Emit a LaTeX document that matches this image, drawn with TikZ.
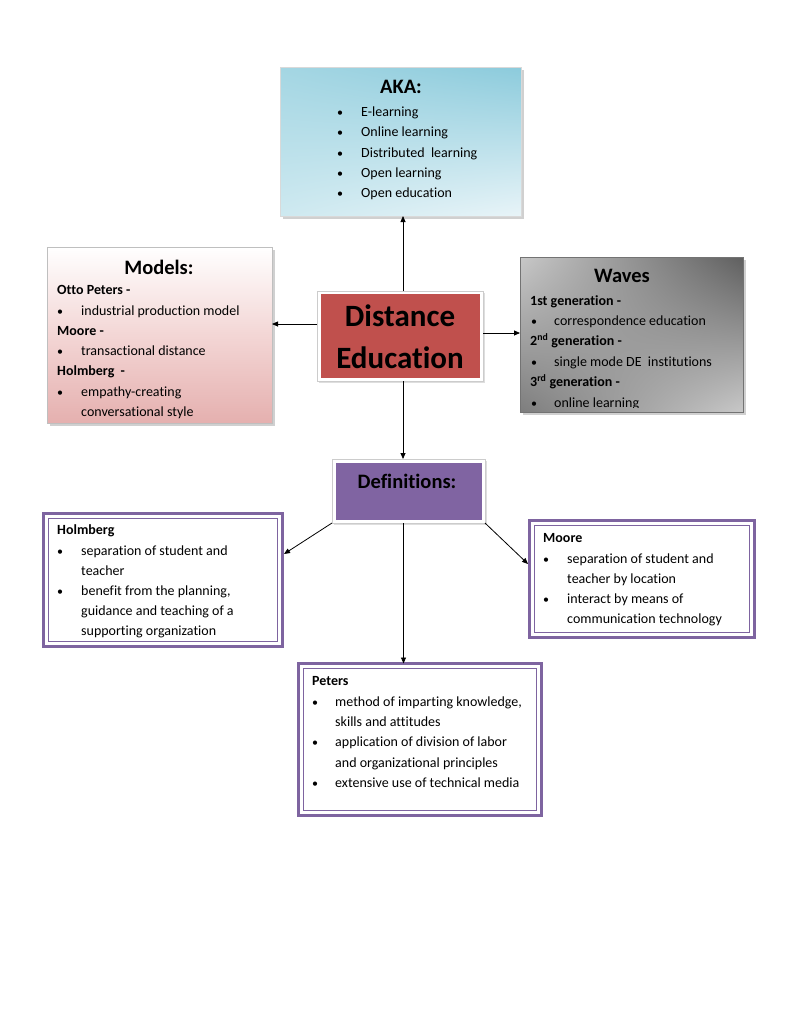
\documentclass[tikz,border=0pt]{standalone}
\usepackage{fontspec}
\setmainfont{Carlito}[Ligatures=NoCommon]
\usetikzlibrary{arrows.meta,calc,shadows,shadings}
\definecolor{deRed}{HTML}{C0504D}
\definecolor{defPurple}{HTML}{8064A2}
\definecolor{dpurple}{HTML}{7E64A0}
\definecolor{akaUL}{RGB}{164,214,227}
\definecolor{akaUR}{RGB}{140,203,220}
\definecolor{akaLL}{RGB}{206,233,240}
\definecolor{akaLR}{RGB}{232,244,248}
\definecolor{modB}{RGB}{229,176,175}
\definecolor{modM}{RGB}{243,214,213}
\definecolor{wUL}{RGB}{200,200,200}
\definecolor{wUR}{RGB}{95,95,95}
\definecolor{wLL}{RGB}{125,125,125}
\definecolor{wLR}{RGB}{200,200,200}
\begin{document}
\begin{tikzpicture}[x=1pt,y=-1pt,
  txt/.style={anchor=base west, inner sep=0pt, font=\fontsize{14}{16}\selectfont},
  btxt/.style={txt, font=\fontsize{14}{16}\selectfont\bfseries},
  bul/.style={anchor=base, inner sep=0pt, font=\fontsize{12}{16}\selectfont},
  ttl/.style={inner sep=0pt, font=\fontsize{20.5}{24}\selectfont\bfseries},
  detxt/.style={anchor=base, inner sep=0pt, font=\fontsize{31}{36}\selectfont\bfseries},
  arr/.style={-{Triangle[length=6pt,width=5pt]}, line width=0.8pt, black},
  shd/.style={drop shadow={shadow xshift=2.5pt, shadow yshift=-2.5pt, fill=black!30, opacity=0.6}},
  boxn/.style={anchor=north west, inner sep=0pt, outer sep=0pt},
  dbl/.style={boxn, draw=dpurple, line width=3.2pt},
  inl/.style={draw=dpurple, line width=0.9pt}
]
\useasboundingbox (0,0) rectangle (791,1023);
\fill[white] (0,0) rectangle (791,1023);

% ---------- AKA ----------
\node[boxn, shd, draw=black!15, line width=0.5pt, minimum width=241pt, minimum height=149pt,
  upper left=akaUL, upper right=akaUR, lower left=akaLL, lower right=akaLR] (aka) at (280,67) {};
\node[ttl] (akat) at (401,87) {AKA:};
\foreach \t [count=\i] in {E-learning, Online learning, Distributed\ \ learning, Open learning, Open education} {
  \node[bul] (akab\i) at (340,96.25+20.25*\i) {\textbullet};
  \node[txt] (akal\i) at (361,96.25+20.25*\i) {\t};
}

% ---------- Models ----------
\node[boxn, shd, draw=black!25, line width=0.5pt, minimum width=225pt, minimum height=176pt,
  top color=white, bottom color=modB, middle color=modM] (models) at (47,247) {};
\node[ttl] (modt) at (159,267) {Models:};
\node[btxt] (m1) at (57,294.5) {Otto Peters -};
\node[bul] (mb1) at (60,315.5) {\textbullet};
\node[txt] (m2) at (81,315.5) {industrial production model};
\node[btxt] (m3) at (57,335.5) {Moore -};
\node[bul] (mb2) at (60,355.5) {\textbullet};
\node[txt] (m4) at (81,355.5) {transactional distance};
\node[btxt] (m5) at (57,375.5) {Holmberg\ \ -};
\node[bul] (mb3) at (60,396.5) {\textbullet};
\node[txt] (m6) at (81,396.5) {empathy-creating};
\node[txt] (m7) at (81,416.5) {conversational style};

% ---------- Distance Education ----------
\node[boxn, draw=black!20, line width=0.5pt, fill=white, minimum width=166pt, minimum height=90pt,
  drop shadow={shadow xshift=1.5pt, shadow yshift=-1.5pt, fill=black!25}] (de) at (317,291) {};
\fill[deRed] ([shift={(3.5,3)}]de.north west) rectangle ([shift={(-3.5,-3)}]de.south east);
\node[detxt] (de1) at (400,326) {Distance};
\node[detxt] (de2) at (400,368) {Education};

% ---------- Waves ----------
\node[boxn, shd, draw=black!55, line width=0.5pt, minimum width=223pt, minimum height=155pt,
  upper left=wUL, upper right=wUR, lower left=wLL, lower right=wLR] (waves) at (520,257) {};
\begin{scope}
\clip (waves.north west) rectangle ([yshift=5pt]waves.south east);
\node[ttl] (wt) at (622,276) {Waves};
\node[btxt] (w1) at (530,305.5) {1st generation -};
\node[bul] (wb1) at (534,325.5) {\textbullet};
\node[txt] (w2) at (554,325.5) {correspondence education};
\node[btxt] (w3) at (530,345.5) {2\textsuperscript{nd} generation -};
\node[bul] (wb2) at (534,366.5) {\textbullet};
\node[txt] (w4) at (554,366.5) {single mode DE\ \ institutions};
\node[btxt] (w5) at (530,386.5) {3\textsuperscript{rd} generation -};
\node[bul] (wb3) at (534,407.5) {\textbullet};
\node[txt] (w6) at (554,407.5) {online learning};
\end{scope}

% ---------- Definitions ----------
\node[boxn, draw=black!20, line width=0.5pt, fill=white, minimum width=153pt, minimum height=64pt,
  drop shadow={shadow xshift=1.5pt, shadow yshift=-1.5pt, fill=black!25}] (defs) at (332,459) {};
\fill[defPurple] ([shift={(3.5,3.5)}]defs.north west) rectangle ([shift={(-3.5,-3.5)}]defs.south east);
\node[ttl] (deft) at (407,481) {Definitions:};

% ---------- Holmberg ----------
\node[dbl, minimum width=239pt, minimum height=133pt, fill=white] (holm) at (43.5,513.5) {};
\node[btxt] (h0) at (57,534.5) {Holmberg};
\node[bul] (hb1) at (60,555.5) {\textbullet};
\node[txt] (h1) at (81,555.5) {separation of student and};
\node[txt] (h2) at (81,575.5) {teacher};
\node[bul] (hb2) at (60,595.5) {\textbullet};
\node[txt] (h3) at (81,595.5) {benefit from the planning,};
\node[txt] (h4) at (81,615.5) {guidance and teaching of a};
\node[txt] (h5) at (81,635.5) {supporting organization};
\fill[white] ([shift={(5.5,-5)}]holm.south west) rectangle ([shift={(-5.5,-1.6)}]holm.south east);
\draw[inl] ([shift={(5,5)}]holm.north west) rectangle ([shift={(-5,-5)}]holm.south east);

% ---------- Moore ----------
\node[dbl, minimum width=225pt, minimum height=117pt, fill=white] (moore) at (529.5,520.5) {};
\node[btxt] (o0) at (543,542.5) {Moore};
\node[bul] (ob1) at (546,563.5) {\textbullet};
\node[txt] (o1) at (567,563.5) {separation of student and};
\node[txt] (o2) at (567,583.5) {teacher by location};
\node[bul] (ob2) at (546,603.5) {\textbullet};
\node[txt] (o3) at (567,603.5) {interact by means of};
\node[txt] (o4) at (567,623.5) {communication technology};
\draw[inl] ([shift={(5,5)}]moore.north west) rectangle ([shift={(-5,-5)}]moore.south east);

% ---------- Peters ----------
\node[dbl, minimum width=243pt, minimum height=152pt, fill=white] (peters) at (298.5,663.5) {};
\node[btxt] (p0) at (312,685.5) {Peters};
\node[bul] (pb1) at (315,706.5) {\textbullet};
\node[txt] (p1) at (335,706.5) {method of imparting knowledge,};
\node[txt] (p2) at (335,726.5) {skills and attitudes};
\node[bul] (pb2) at (315,746.5) {\textbullet};
\node[txt] (p3) at (335,746.5) {application of division of labor};
\node[txt] (p4) at (335,767) {and organizational principles};
\node[bul] (pb3) at (315,787.5) {\textbullet};
\node[txt] (p5) at (335,787.5) {extensive use of technical media};
\draw[inl] ([shift={(5,5)}]peters.north west) rectangle ([shift={(-5,-5)}]peters.south east);

% ---------- Connectors ----------
\draw[arr] ([xshift=3pt]de.north) -- ([xshift=3pt]de.north |- aka.south);
\draw[arr] ([yshift=12pt]de.west) -- ([yshift=12pt]de.west -| models.east);
\draw[arr] ([yshift=3pt]de.east) -- ([yshift=3pt]de.east -| waves.west);
\draw[arr] ([xshift=3pt]de.south) -- ([xshift=3pt]de.south |- defs.north);
\coordinate (holmin) at ([yshift=26pt,xshift=1.5pt]holm.east);
\coordinate (moorein) at ([yshift=15pt,xshift=-1.5pt]moore.west);
\draw[arr] (defs.south west) -- (holmin);
\draw[arr] (defs.south east) -- (moorein);
\draw[arr] ([xshift=-5pt]defs.south) -- ([xshift=-5pt]defs.south |- peters.north);
\end{tikzpicture}
\end{document}
